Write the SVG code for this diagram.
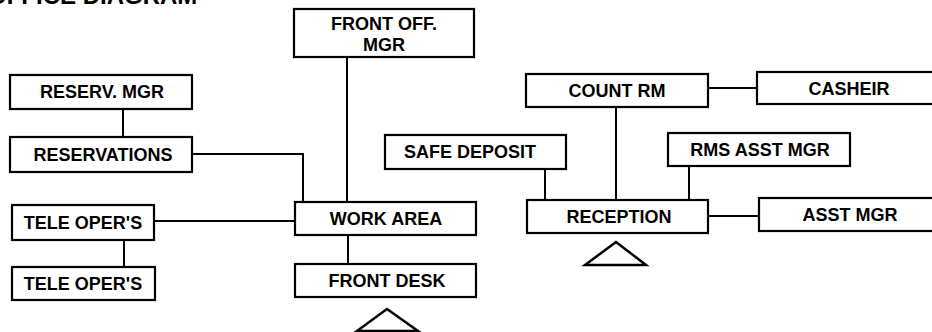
<svg xmlns="http://www.w3.org/2000/svg" width="932" height="332" viewBox="0 0 932 332">
<style>
.box rect{fill:#fff;stroke:#000;stroke-width:2.2}
.box text{font-family:"Liberation Sans",Arial,sans-serif;font-weight:bold;font-size:18px;fill:#000;text-anchor:middle}
.conn line,.conn polyline{stroke:#000;stroke-width:2;fill:none}
.tri{fill:none;stroke:#000;stroke-width:2.5;stroke-linejoin:miter}
.title{font-family:"Liberation Sans",Arial,sans-serif;font-weight:bold;font-size:24px;fill:#000}
</style>
<rect width="932" height="332" fill="#fff"/>
<text class="title" x="-12" y="4">OFFICE DIAGRAM</text>
<g class="conn" id="connectors">
<line x1="347" y1="57" x2="347" y2="202"/>
<line x1="123" y1="109" x2="123" y2="137"/>
<polyline points="192,154 303,154 303,202"/>
<line x1="154" y1="221" x2="295" y2="221"/>
<line x1="124" y1="240" x2="124" y2="267"/>
<line x1="348" y1="235" x2="348" y2="264"/>
<line x1="545" y1="169" x2="545" y2="200"/>
<line x1="616" y1="107" x2="616" y2="200"/>
<line x1="708" y1="88" x2="757" y2="88"/>
<line x1="689" y1="166" x2="689" y2="200"/>
<line x1="708" y1="216" x2="759" y2="216"/>
</g>
<g class="box" id="front-off-mgr"><rect x="294" y="9" width="180" height="48"/><text x="384" y="30">FRONT OFF.</text><text x="384" y="51">MGR</text></g>
<g class="box" id="reserv-mgr"><rect x="10" y="75" width="182" height="34"/><text x="102" y="98">RESERV. MGR</text></g>
<g class="box" id="reservations"><rect x="10" y="137" width="182" height="35"/><text x="103" y="161">RESERVATIONS</text></g>
<g class="box" id="tele-opers-1"><rect x="12" y="205" width="142" height="35"/><text x="83" y="229">TELE OPER'S</text></g>
<g class="box" id="tele-opers-2"><rect x="12" y="267" width="143" height="33"/><text x="83" y="290">TELE OPER'S</text></g>
<g class="box" id="work-area"><rect x="295" y="202" width="181" height="33"/><text x="386" y="225">WORK AREA</text></g>
<g class="box" id="front-desk"><rect x="295" y="264" width="181" height="33"/><text x="387" y="287">FRONT DESK</text></g>
<g class="box" id="safe-deposit"><rect x="385" y="135" width="181" height="34"/><text x="470" y="158">SAFE DEPOSIT</text></g>
<g class="box" id="count-rm"><rect x="526" y="74" width="182" height="33"/><text x="617" y="97">COUNT RM</text></g>
<g class="box" id="casheir"><rect x="757" y="72" width="180" height="32"/><text x="849" y="95">CASHEIR</text></g>
<g class="box" id="rms-asst-mgr"><rect x="668" y="133" width="182" height="33"/><text x="760" y="156">RMS ASST MGR</text></g>
<g class="box" id="reception"><rect x="527" y="200" width="181" height="33"/><text x="619" y="223">RECEPTION</text></g>
<g class="box" id="asst-mgr"><rect x="759" y="198" width="180" height="33"/><text x="850" y="221">ASST MGR</text></g>
<g id="triangle-front-desk"><polygon class="tri" points="387,309 357,331 418,331"/></g>
<g id="triangle-reception"><polygon class="tri" points="616,242 585,265 646,265"/></g>
</svg>
